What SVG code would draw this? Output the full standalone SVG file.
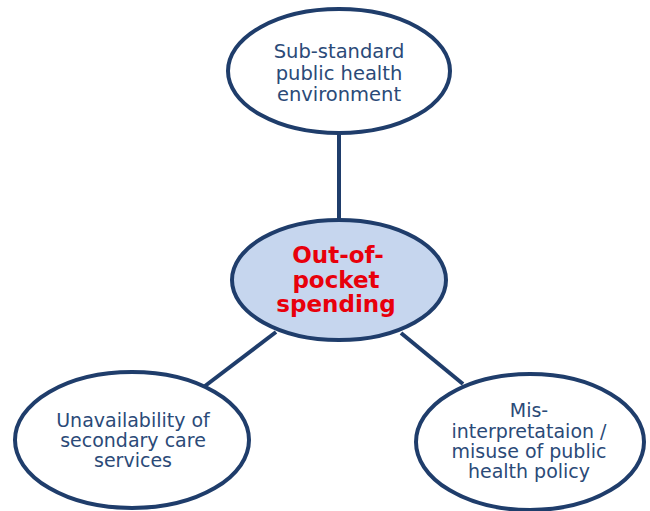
<svg xmlns="http://www.w3.org/2000/svg" width="650" height="511" viewBox="0 0 650 511">
<style>
.node{fill:#ffffff;stroke:#1f3d6b;stroke-width:4}
.center{fill:#c6d6ee;stroke:#1f3d6b;stroke-width:4}
.lbl{font-family:"DejaVu Sans",sans-serif;font-size:20px;fill:#2b4a78;text-anchor:middle}
.sm{font-size:19px}
.md{font-size:19.5px}
.clbl{font-family:"DejaVu Sans",sans-serif;font-size:23px;font-weight:bold;fill:#e8000b;text-anchor:middle}
.conn{stroke:#1f3d6b;stroke-width:4;fill:none}
</style>
<rect width="650" height="511" fill="#ffffff"/>
<g id="connectors">
<line class="conn" x1="339" y1="133" x2="339" y2="219"/>
<line class="conn" x1="205" y1="386" x2="276" y2="332"/>
<line class="conn" x1="401" y1="333" x2="463" y2="384"/>
</g>
<g id="top">
<ellipse class="node" cx="339" cy="71" rx="111" ry="62"/>
<text class="lbl md" x="339" y="58">Sub-standard</text>
<text class="lbl md" x="339" y="79.5">public health</text>
<text class="lbl md" x="339" y="101">environment</text>
</g>
<g id="center">
<ellipse class="center" cx="339" cy="280" rx="107" ry="60"/>
<text class="clbl" x="338" y="263">Out-of-</text>
<text class="clbl" x="336" y="288">pocket</text>
<text class="clbl" x="336" y="312">spending</text>
</g>
<g id="left">
<ellipse class="node" cx="132" cy="440" rx="117" ry="68"/>
<text class="lbl sm" x="133" y="427">Unavailability of</text>
<text class="lbl sm" x="133" y="447">secondary care</text>
<text class="lbl sm" x="133" y="467">services</text>
</g>
<g id="right">
<ellipse class="node" cx="530" cy="442" rx="114" ry="68"/>
<text class="lbl sm" x="529" y="417">Mis-</text>
<text class="lbl sm" x="529" y="438">interpretataion /</text>
<text class="lbl sm" x="529" y="458">misuse of public</text>
<text class="lbl sm" x="529" y="478">health policy</text>
</g>
</svg>
